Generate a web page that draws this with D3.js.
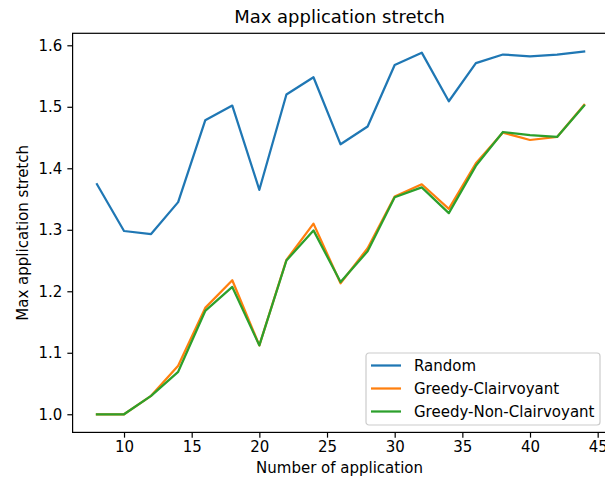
<!doctype html>
<html>
<head>
<meta charset="utf-8">
<title>Max application stretch</title>
<script src="https://d3js.org/d3.v7.min.js"></script>
<style>
  body { margin: 0; background: #fff; }
  text { font-family: "DejaVu Sans", sans-serif; fill: #000; }
</style>
</head>
<body>
<div id="chart"></div>
<script>
// data
var apps = [8, 10, 12, 14, 16, 18, 20, 22, 24, 26, 28, 30, 32, 34, 36, 38, 40, 42, 44];
var random = [1.374, 1.298, 1.293, 1.345, 1.478, 1.502, 1.365, 1.520, 1.548, 1.439, 1.468, 1.568, 1.588, 1.509, 1.571, 1.585, 1.582, 1.585, 1.590];
var greedyClair = [1.0, 1.0, 1.030, 1.079, 1.173, 1.218, 1.112, 1.251, 1.310, 1.213, 1.270, 1.354, 1.374, 1.334, 1.408, 1.458, 1.446, 1.451, 1.503];
var greedyNonClair = [1.0, 1.0, 1.030, 1.069, 1.168, 1.207, 1.112, 1.250, 1.299, 1.215, 1.265, 1.353, 1.369, 1.327, 1.404, 1.459, 1.454, 1.451, 1.502];
var seriesNames = ["Random", "Greedy-Clairvoyant", "Greedy-Non-Clairvoyant"];
var xTicks = [10, 15, 20, 25, 30, 35, 40, 45];
var yTicks = [1.0, 1.1, 1.2, 1.3, 1.4, 1.5, 1.6];

var W = 605, H = 478;
var mLeft = 72.6, mRight = 608.5, mTop = 33.3, mBottom = 432.4;
var colors = ["#1f77b4", "#ff7f0e", "#2ca02c"];

var svg = d3.select("#chart").append("svg")
    .attr("width", W)
    .attr("height", H)
    .style("display", "block");

// matplotlib style 5% margins
var xPad = (d3.max(apps) - d3.min(apps)) * 0.05;
var allY = random.concat(greedyClair, greedyNonClair);
var yPad = (d3.max(allY) - d3.min(allY)) * 0.05;

var x = d3.scaleLinear()
    .domain([d3.min(apps) - xPad, d3.max(apps) + xPad])
    .range([mLeft, mRight]);

var y = d3.scaleLinear()
    .domain([d3.min(allY) - yPad, d3.max(allY) + yPad])
    .range([mBottom, mTop]);

var xAxis = d3.axisBottom(x).tickValues(xTicks).tickSize(5.25).tickPadding(4).tickFormat(d3.format("d"));
var yAxis = d3.axisLeft(y).tickValues(yTicks).tickSize(5.25).tickPadding(5).tickFormat(d3.format(".1f"));

function styleAxis(g) {
  g.select(".domain").remove();
  g.selectAll(".tick line").attr("stroke", "#000").attr("stroke-width", 1.2);
  g.selectAll(".tick text").style("font-size", "15px").attr("fill", "#000").style("font-family", "DejaVu Sans");
}

svg.append("g")
    .attr("class", "x axis")
    .attr("transform", "translate(0," + mBottom + ")")
    .call(xAxis)
    .call(styleAxis);

svg.append("g")
    .attr("class", "y axis")
    .attr("transform", "translate(" + mLeft + ",0)")
    .call(yAxis)
    .call(styleAxis);

// lines
var line = d3.line()
    .x(function(d, i){ return x(apps[i]); })
    .y(function(d){ return y(d); });

[random, greedyClair, greedyNonClair].forEach(function(s, i){
  svg.append("path")
      .datum(s)
      .attr("fill", "none")
      .attr("stroke", colors[i])
      .attr("stroke-width", 2.25)
      .attr("stroke-linejoin", "round")
      .attr("stroke-linecap", "square")
      .attr("d", line);
});

// spines
svg.append("rect")
    .attr("x", mLeft)
    .attr("y", mTop)
    .attr("width", mRight - mLeft)
    .attr("height", mBottom - mTop)
    .attr("fill", "none")
    .attr("stroke", "#000")
    .attr("stroke-width", 1.2);

// title and labels
svg.append("text")
    .attr("x", (mLeft + mRight) / 2 - 1)
    .attr("y", 22.5)
    .attr("text-anchor", "middle")
    .style("font-size", "18px")
    .text("Max application stretch");

svg.append("text")
    .attr("x", (mLeft + mRight) / 2 - 1)
    .attr("y", 473)
    .attr("text-anchor", "middle")
    .style("font-size", "15px")
    .text("Number of application");

svg.append("text")
    .attr("transform", "translate(28," + (mTop + mBottom) / 2 + ") rotate(-90)")
    .attr("text-anchor", "middle")
    .style("font-size", "15px")
    .text("Max application stretch");

// legend
var lg = svg.append("g").attr("transform", "translate(366,353)");
lg.append("rect")
    .attr("width", 234)
    .attr("height", 72)
    .attr("rx", 3)
    .attr("fill", "#fff")
    .attr("fill-opacity", 0.8)
    .attr("stroke", "#ccc")
    .attr("stroke-width", 1.2);

seriesNames.forEach(function(name, i){
  var row = lg.append("g").attr("transform", "translate(0," + (12.5 + i * 23) + ")");
  row.append("line")
      .attr("x1", 5).attr("x2", 35)
      .attr("stroke", colors[i])
      .attr("stroke-width", 2.25);
  row.append("text")
      .attr("x", 48)
      .attr("dy", "0.35em")
      .style("font-size", "15px")
      .text(name);
});
</script>
</body>
</html>
